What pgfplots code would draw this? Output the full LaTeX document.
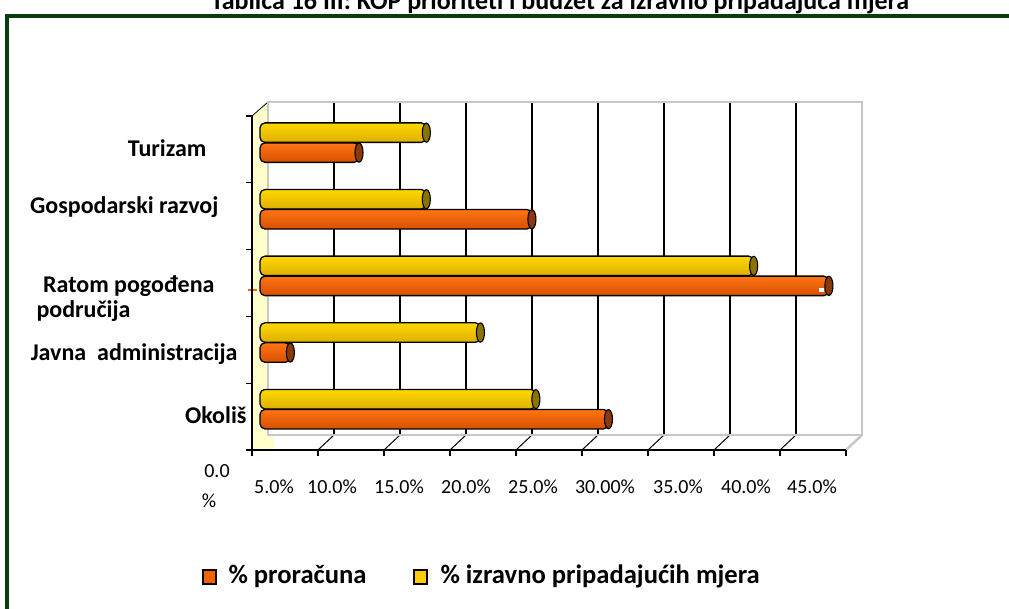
\documentclass[border=0pt]{standalone}
\usepackage{fontspec}
\setmainfont{Carlito}
\usepackage{pgfplots}
\pgfplotsset{compat=1.18}

\definecolor{framegreen}{HTML}{0B3D0B}
\definecolor{orTop}{HTML}{FF7414}
\definecolor{orMid}{HTML}{F26300}
\definecolor{orBot}{HTML}{D65000}
\definecolor{orFill}{HTML}{F26300}
\definecolor{orCap}{HTML}{8A3A0A}
\definecolor{yeTop}{HTML}{FFD800}
\definecolor{yeMid}{HTML}{F5C500}
\definecolor{yeBot}{HTML}{DDAF00}
\definecolor{yeFill}{HTML}{FFCC00}
\definecolor{yeCap}{HTML}{8A7400}
\definecolor{wallyellow}{HTML}{FFFFCC}
\definecolor{edgegray}{HTML}{C8C8C8}

\pgfplotsset{
  ycyl/.style={xbar, bar shift=10pt, draw=black, line width=1.3pt, rounded corners=5pt,
    top color=yeTop, middle color=yeMid, bottom color=yeBot},
  ocyl/.style={xbar, bar shift=-10pt, draw=black, line width=1.3pt, rounded corners=5pt,
    top color=orTop, middle color=orMid, bottom color=orBot},
}

\begin{document}
\begin{tikzpicture}[x=1pt,y=1pt]
\useasboundingbox (0,0) rectangle (1009,608);

% --- frame and title (cut by the top edge) ---
\begin{scope}
\clip (0,0) rectangle (1009,608);
\node[anchor=base, font=\bfseries\fontsize{26}{30}\selectfont] at (560,598)
  {Tablica 16 III: KOP  prioriteti i budžet za izravno pripadajuća mjera};
\draw[framegreen, line width=4pt] (7,-20) -- (7,592) -- (1040,592);
\end{scope}

% --- 3D walls ---
\fill[wallyellow] (252,158) -- (268,173) -- (268,506) -- (252,492) -- cycle;
\fill[wallyellow] (252,158) -- (268,173) -- (274,173) -- (274,158) -- cycle;
\draw[black, line width=0.8pt] (252,492) -- (268,506);
\foreach \k in {1,...,8} {
  \draw[black, line width=1.1pt] ({268+66*\k},173) -- ({268+66*\k},506);
  \draw[black, line width=1pt] ({252+66*\k},158) -- ({268+66*\k},173);
}
\draw[edgegray, line width=2.5pt] (268,173) -- (268,506) -- (862,506) -- (862,173) -- cycle;
\draw[edgegray, line width=2.5pt] (846,158) -- (862,173);

% --- bars (mid-depth plane); categories 0..4 = Okolis, Javna adm., Ratom, Gospodarski, Turizam ---
\begin{axis}[
    at={(260pt,165.5pt)}, anchor=south west,
    scale only axis, width=594pt, height=333.2pt,
    xmin=0, xmax=45, ymin=-0.5, ymax=4.5,
    hide axis, clip=false,
    bar width=19.5pt,
]
% % izravno pripadajucih mjera
\addplot[ycyl] coordinates {(20.9,0)};
\addplot[ycyl] coordinates {(16.7,1)};
\addplot[ycyl] coordinates {(37.4,2)};
\addplot[ycyl] coordinates {(12.6,3)};
\addplot[ycyl] coordinates {(12.6,4)};
% % proracuna
\addplot[ocyl] coordinates {(26.4,0)};
\addplot[ocyl] coordinates {(2.3,1)};
\addplot[ocyl] coordinates {(43.1,2)};
\addplot[ocyl] coordinates {(20.6,3)};
\addplot[ocyl] coordinates {(7.5,4)};
% cylinder end caps
\addplot[only marks, mark=*, mark size=9.6pt,
    mark options={xscale=0.42, fill=yeCap, draw=black, line width=1.1pt}]
    coordinates {(20.9,0.15) (16.7,1.15) (37.4,2.15) (12.6,3.15) (12.6,4.15)};
\addplot[only marks, mark=*, mark size=9.6pt,
    mark options={xscale=0.42, fill=orCap, draw=black, line width=1.1pt}]
    coordinates {(26.4,-0.15) (2.3,0.85) (43.1,1.85) (20.6,2.85) (7.5,3.85)};
\end{axis}

% small artefacts seen in the original
\draw[orFill, line width=2.5pt] (248,318) -- (257,318);
\fill[white] (819,316) rectangle (824,320);

% --- front axes ---
\draw[black, line width=1.3pt] (252,492) -- (252,158) -- (846,158);
\foreach \k in {0,...,9}
  \draw[black, line width=1.3pt] ({252+66*\k},158) -- ({252+66*\k},152);
\foreach \k in {0,...,5}
  \draw[black, line width=1.3pt] (252,{158+66.8*\k}) -- (246,{158+66.8*\k});

% --- x tick labels ---
\begin{scope}[every node/.style={anchor=base, font=\fontsize{20}{24}\selectfont}]
\node at (217,130) {0.0};
\begin{scope}
\clip (180,102) rectangle (250,125);
\node at (209,101) {\%};
\end{scope}
\node at (274,114) {5.0\%};
\node at (332,114) {10.0\%};
\node at (399,114) {15.0\%};
\node at (466,114) {20.0\%};
\node at (533,114) {25.0\%};
\node at (605,114) {30.00\%};
\node at (678,114) {35.0\%};
\node at (746,114) {40.0\%};
\node at (812,114) {45.0\%};
\end{scope}

% --- category labels ---
\begin{scope}[every node/.style={font=\bfseries\fontsize{24}{28}\selectfont}]
\node[anchor=base east] at (210,451) {Turizam};
\node[anchor=base east] at (222,394.5) {Gospodarski razvoj};
\node[anchor=base east] at (218,315.5) {Ratom pogođena};
\node[anchor=base west] at (33,290) {područija};
\node[anchor=base east] at (241,247.5) {Javna\ \ administracija};
\node[anchor=base east] at (250,184) {Okoliš};
\end{scope}

% --- legend ---
\draw[black, line width=1.3pt, fill=orFill] (203,24) rectangle (216,38);
\node[anchor=base west, font=\bfseries\fontsize{26.6}{30}\selectfont] at (225,25) {\% proračuna};
\draw[black, line width=1.3pt, fill=yeFill] (414,24) rectangle (427,38);
\node[anchor=base west, font=\bfseries\fontsize{26.6}{30}\selectfont] at (437,25) {\% izravno pripadajućih mjera};
\end{tikzpicture}
\end{document}
